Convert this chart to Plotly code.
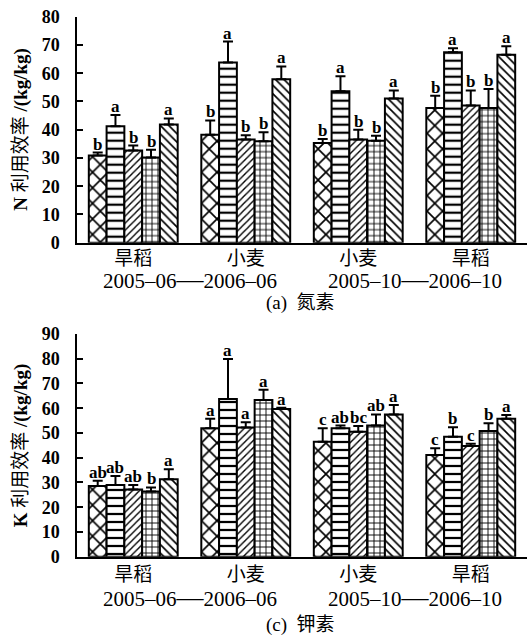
import plotly.graph_objects as go

# ---------------- data ----------------
crops = ["旱稻", "小麦", "小麦", "旱稻"]
periods = [("2005–06", "2006–06"), ("2005–10", "2006–10")]
treatments = ["T1", "T2", "T3", "T4", "T5"]
patterns = ["x", "-", "/", "+", "\\"]
pattern_sizes = [11, 8, 5, 6, 6]

# N use efficiency (kg/kg): rows = treatment, cols = crop group
n_vals = [
    [30.9, 38.2, 35.3, 47.7],
    [41.2, 63.8, 53.6, 67.4],
    [32.6, 36.5, 36.5, 48.6],
    [30.2, 35.9, 36.1, 47.7],
    [41.8, 57.9, 51.0, 66.5],
]
n_err = [
    [1.0, 5.1, 1.4, 4.3],
    [4.0, 7.4, 5.3, 1.4],
    [1.8, 1.5, 3.5, 5.3],
    [2.7, 3.2, 1.8, 6.7],
    [2.2, 4.5, 2.9, 3.0],
]
n_letters = [
    ["b", "b", "b", "b"],
    ["a", "a", "a", "a"],
    ["b", "b", "b", "b"],
    ["b", "b", "b", "b"],
    ["a", "a", "a", "a"],
]

# K use efficiency (kg/kg)
k_vals = [
    [28.6, 51.9, 46.5, 41.1],
    [29.0, 63.7, 51.9, 48.5],
    [27.2, 52.2, 50.5, 44.7],
    [26.3, 63.3, 53.0, 50.8],
    [31.3, 59.7, 57.5, 55.7],
]
k_err = [
    [2.1, 3.8, 5.4, 2.7],
    [3.6, 16.2, 1.1, 3.8],
    [1.8, 2.1, 2.3, 0.9],
    [1.7, 4.2, 4.5, 3.1],
    [4.0, 0.5, 3.8, 1.6],
]
k_letters = [
    ["ab", "a", "c", "c"],
    ["ab", "a", "ab", "b"],
    ["ab", "a", "bc", "c"],
    ["b", "a", "ab", "b"],
    ["a", "a", "a", "a"],
]

y_ticks_n = [0, 10, 20, 30, 40, 50, 60, 70, 80]
y_ticks_k = [0, 10, 20, 30, 40, 50, 60, 70, 80, 90]

# ---------------- layout constants ----------------
W, H = 529, 644
BARGAP = 0.21
SERIF = "Liberation Serif, Noto Sans CJK SC, serif"
CJK = "Noto Sans CJK SC, Liberation Serif, sans-serif"

def py(p):  # pixel from top -> paper
    return 1 - p / H

def px(p):
    return p / W

x_dom = [px(77), px(527)]
top_dom = [py(242.7), py(16.7)]
bot_dom = [py(556.7), py(334)]

fig = go.Figure()
group_x = list(range(len(crops)))
nt = len(treatments)
bw = (1 - BARGAP) / nt

annotations = []

def add_panel(vals, errs, letters, xa, ya):
    for i in range(nt):
        fig.add_trace(go.Bar(
            x=group_x, y=vals[i], name=treatments[i],
            xaxis=xa, yaxis=ya, showlegend=False, hoverinfo="skip",
            marker=dict(color="white",
                        line=dict(color="black", width=2),
                        pattern=dict(shape=patterns[i], fgcolor="black",
                                     bgcolor="white", size=pattern_sizes[i],
                                     solidity=0.28)),
            error_y=dict(type="data", symmetric=False, array=errs[i],
                         arrayminus=[0] * len(errs[i]), color="black",
                         thickness=2, width=5),
        ))
        for g in group_x:
            annotations.append(dict(
                x=g + (i - (nt - 1) / 2) * bw, y=vals[i][g] + errs[i][g],
                xref=xa, yref=ya, text="<b>%s</b>" % letters[i][g],
                showarrow=False, xanchor="center", yanchor="bottom", yshift=-3,
                font=dict(family=SERIF, size=17, color="black")))

add_panel(n_vals, n_err, n_letters, "x", "y")
add_panel(k_vals, k_err, k_letters, "x2", "y2")

axis_common = dict(showline=True, linecolor="black", linewidth=1.5,
                   showgrid=False, zeroline=False, automargin=False)

fig.update_layout(
    template="none",
    width=W, height=H, margin=dict(l=0, r=0, t=0, b=0, autoexpand=False),
    paper_bgcolor="white", plot_bgcolor="white",
    barmode="group", bargap=BARGAP, bargroupgap=0,
    xaxis=dict(domain=x_dom, anchor="y", range=[-0.5, 3.5],
               tickvals=group_x, ticktext=crops, ticks="",
               tickfont=dict(family=CJK, size=19, color="black"),
               ticklabelstandoff=-2, **axis_common),
    yaxis=dict(domain=top_dom, anchor="x", range=[0, 80],
               tickvals=y_ticks_n, ticks="inside", ticklen=6, tickwidth=1.5,
               tickcolor="black", ticklabelstandoff=12,
               tickfont=dict(family=SERIF, size=18, color="black", weight="bold"),
               **axis_common),
    xaxis2=dict(domain=x_dom, anchor="y2", range=[-0.5, 3.5],
                tickvals=group_x, ticktext=crops, ticks="",
                tickfont=dict(family=CJK, size=19, color="black"),
                ticklabelstandoff=0, **axis_common),
    yaxis2=dict(domain=bot_dom, anchor="x2", range=[0, 90],
                tickvals=y_ticks_k, ticks="inside", ticklen=6, tickwidth=1.5,
                tickcolor="black", ticklabelstandoff=12,
                tickfont=dict(family=SERIF, size=18, color="black", weight="bold"),
                **axis_common),
)

# y-axis titles
for dom, elem in [(top_dom, "N"), (bot_dom, "K")]:
    annotations.append(dict(x=px(21), y=(dom[0] + dom[1]) / 2, xref="paper", yref="paper",
                            xanchor="center", yanchor="middle",
                            text="<b>%s</b> 利用效率 <b>/(kg/kg)</b>" % elem,
                            textangle=-90, showarrow=False,
                            font=dict(family=SERIF, size=19, color="black")))

# period labels and captions
for dom, xa, dshift, cshift, cap in [(top_dom, "x", -36, -60, "(a)  氮素"),
                                     (bot_dom, "x2", -40, -68, "(c)  钾素")]:
    for j, (a, b) in enumerate(periods):
        annotations.append(dict(x=2 * j + 0.5, y=dom[0], xref=xa, yref="paper",
                                text=a + "<span style='font-size:27px'>—</span>" + b,
                                showarrow=False, xanchor="center", yanchor="middle", yshift=dshift,
                                font=dict(family=SERIF, size=21, color="black")))
    annotations.append(dict(x=px(300), y=dom[0], xref="paper", yref="paper",
                            text=cap, showarrow=False, xanchor="center", yanchor="middle",
                            yshift=cshift,
                            font=dict(family=SERIF, size=19, color="black")))

fig.update_layout(annotations=annotations)
fig.write_html("out.html", config={"displayModeBar": False},
               post_script="document.body.style.margin='0';document.body.style.padding='0';")
